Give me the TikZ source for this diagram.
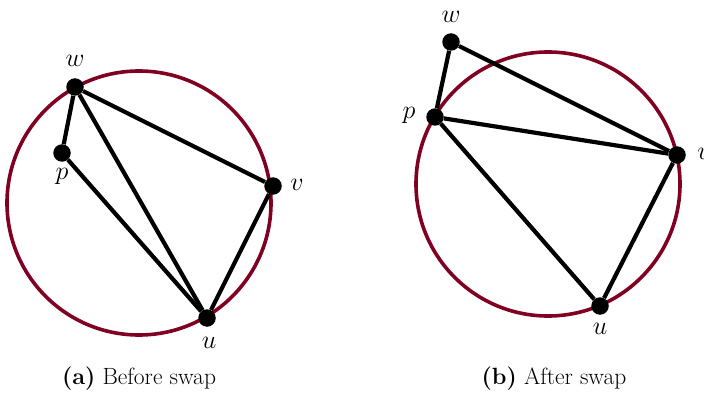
\RequirePackage{fix-cm}
\documentclass[tikz,border=0pt]{standalone}
\usepackage{tikz}
\definecolor{circred}{RGB}{128,0,34}
\begin{document}
\begin{tikzpicture}[x=1pt,y=-1pt,
  ring/.style={draw=circred,line width=3.6pt},
  vtx/.style={circle,fill=black,inner sep=0pt,minimum size=17.5pt},
  edge/.style={line width=4.2pt,black},
  lab/.style={font=\fontsize{26}{30}\selectfont},
  captext/.style={font=\fontsize{23.5}{27}\selectfont}]
\useasboundingbox (0,0) rectangle (704,393);
% left
\draw[ring] (139,203) circle (132);
\node[vtx] (wa) at (75,87) {};
\node[vtx] (pa) at (62,153) {};
\node[vtx] (va) at (273,186) {};
\node[vtx] (ua) at (207,318) {};
\draw[edge] (wa) -- (pa);
\draw[edge] (wa) -- (va);
\draw[edge] (wa) -- (ua);
\draw[edge] (pa) -- (ua);
\draw[edge] (va) -- (ua);
\node[lab] (lwa) at (75,61) {$w$};
\node[lab] (lpa) at (62,176) {$p$};
\node[lab] (lva) at (297,185) {$v$};
\node[lab] (lua) at (209,343) {$u$};
\node[captext] (capa) at (139,379) {\textbf{(a)} Before swap};
% right
\draw[ring] (548,184) circle (132);
\node[vtx] (wb) at (451,42) {};
\node[vtx] (pb) at (435,117) {};
\node[vtx] (vb) at (677,155) {};
\node[vtx] (ub) at (600,306) {};
\draw[edge] (wb) -- (pb);
\draw[edge] (wb) -- (vb);
\draw[edge] (pb) -- (vb);
\draw[edge] (pb) -- (ub);
\draw[edge] (vb) -- (ub);
\node[lab] (lwb) at (451,17) {$w$};
\node[lab] (lpb) at (409,115) {$p$};
\node[lab] (lvb) at (704,154) {$v$};
\node[lab] (lub) at (600,329) {$u$};
\node[captext] (capb) at (554,379) {\textbf{(b)} After swap};
\end{tikzpicture}
\end{document}
